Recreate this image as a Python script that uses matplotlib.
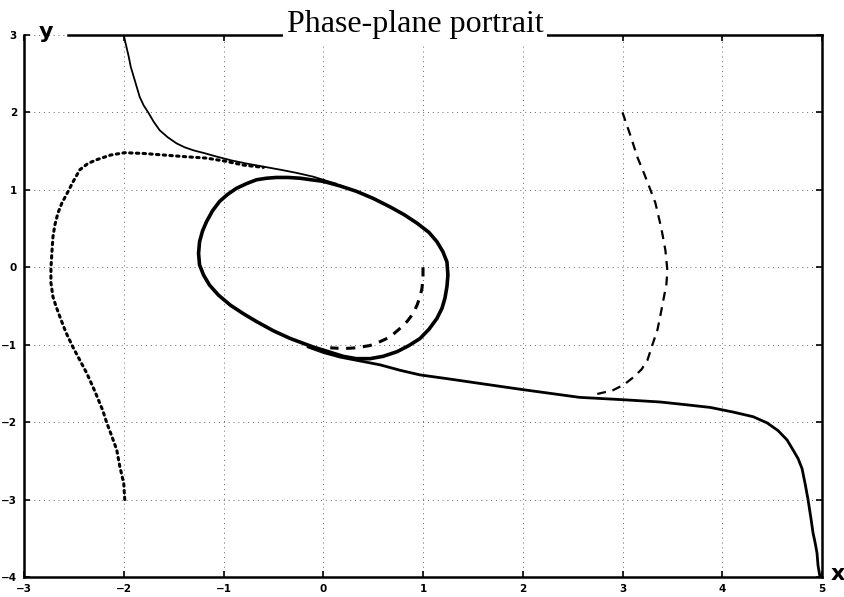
import numpy as np
import matplotlib.pyplot as plt

# trajectories (x, y pairs)
upper_x = [-2.0, -1.99, -1.97, -1.95, -1.93, -1.90, -1.87, -1.84, -1.80, -1.75,
           -1.70, -1.64, -1.56, -1.47, -1.39, -1.30, -1.18, -1.07, -0.92, -0.77,
           -0.60, -0.43, -0.27, -0.10, 0.05, 0.13]
upper_y = [3.0, 2.94, 2.83, 2.72, 2.59, 2.46, 2.33, 2.20, 2.09, 1.99,
           1.88, 1.77, 1.68, 1.60, 1.55, 1.51, 1.47, 1.43, 1.38, 1.34,
           1.30, 1.26, 1.22, 1.17, 1.11, 1.08]

lower_x = [4.98, 4.96, 4.95, 4.93, 4.91, 4.89, 4.86, 4.83, 4.80, 4.76,
           4.71, 4.65, 4.56, 4.45, 4.31, 4.11, 3.88, 3.60, 3.38, 3.0,
           2.57, 2.0, 1.57, 1.25, 0.97, 0.77, 0.57, 0.37, 0.17, 0.0, -0.15]
lower_y = [-4.0, -3.85, -3.69, -3.55, -3.43, -3.25, -3.0, -2.79, -2.60, -2.47,
           -2.36, -2.23, -2.11, -2.01, -1.93, -1.87, -1.81, -1.77, -1.74, -1.71,
           -1.68, -1.58, -1.50, -1.44, -1.39, -1.33, -1.26, -1.21, -1.16, -1.10, -1.03]

cycle_x = [0.0, 0.17, 0.335, 0.50, 0.67, 0.81, 0.94, 1.06, 1.14, 1.20, 1.24, 1.25,
           1.24, 1.22, 1.19, 1.14, 1.06, 0.97, 0.86, 0.74, 0.60, 0.47, 0.33, 0.20,
           0.05, -0.10, -0.33, -0.50, -0.67, -0.80, -0.93, -1.05, -1.14, -1.20,
           -1.24, -1.25, -1.24, -1.21, -1.17, -1.11, -1.04, -0.96, -0.87, -0.77,
           -0.67, -0.57, -0.47, -0.35, -0.23, -0.12, 0.0]
cycle_y = [1.11, 1.05, 0.98, 0.89, 0.78, 0.68, 0.57, 0.45, 0.33, 0.20, 0.07, -0.10,
           -0.25, -0.40, -0.53, -0.66, -0.80, -0.92, -1.01, -1.09, -1.15, -1.18, -1.18, -1.15,
           -1.09, -1.03, -0.92, -0.82, -0.70, -0.60, -0.49, -0.36, -0.23, -0.10,
           0.03, 0.18, 0.33, 0.47, 0.59, 0.73, 0.85, 0.94, 1.02, 1.08,
           1.13, 1.15, 1.16, 1.16, 1.15, 1.13, 1.11]

dot_x = [-1.99, -2.0, -2.04, -2.07, -2.12, -2.17, -2.21, -2.29, -2.37, -2.44,
         -2.51, -2.58, -2.64, -2.68, -2.71, -2.73, -2.73, -2.72, -2.71, -2.69,
         -2.66, -2.62, -2.57, -2.51, -2.44, -2.36, -2.27, -2.13, -1.99, -1.80,
         -1.60, -1.40, -1.17, -0.98, -0.80, -0.60]
dot_y = [-3.0, -2.79, -2.57, -2.36, -2.18, -2.01, -1.85, -1.60, -1.37, -1.20,
         -1.03, -0.84, -0.64, -0.50, -0.38, -0.20, -0.01, 0.20, 0.39, 0.55,
         0.70, 0.83, 0.95, 1.10, 1.26, 1.34, 1.39, 1.45, 1.48, 1.47,
         1.45, 1.43, 1.41, 1.37, 1.32, 1.29]

dash_out_x = [3.0, 3.08, 3.15, 3.22, 3.28, 3.33, 3.39, 3.43, 3.45, 3.44, 3.41,
              3.38, 3.35, 3.30, 3.25, 3.19, 3.11, 3.01, 2.90, 2.70]
dash_out_y = [2.0, 1.70, 1.42, 1.20, 1.0, 0.83, 0.50, 0.22, -0.04, -0.22, -0.42,
              -0.62, -0.81, -1.0, -1.20, -1.32, -1.42, -1.52, -1.59, -1.65]

dash_in_x = [1.0, 1.0, 0.99, 0.97, 0.94, 0.90, 0.84, 0.76, 0.67, 0.57, 0.47, 0.33, 0.20, 0.07]
dash_in_y = [0.0, -0.13, -0.27, -0.38, -0.49, -0.60, -0.70, -0.80, -0.90, -0.96, -1.01, -1.04, -1.05, -1.04]

xticks = [-3, -2, -1, 0, 1, 2, 3, 4, 5]
yticks = [-4, -3, -2, -1, 0, 1, 2, 3]

fig = plt.figure(figsize=(8.44, 5.97), dpi=100)
ax = fig.add_axes([24 / 844, 20 / 597, 798 / 844, 542 / 597])

ax.plot(cycle_x, cycle_y, color="black", linewidth=2.6, solid_joinstyle="round")
ax.plot(upper_x, upper_y, color="black", linewidth=1.3)
ax.plot(lower_x, lower_y, color="black", linewidth=2.0)
ax.plot(dot_x, dot_y, color="black", linewidth=2.2, linestyle=(0, (0.8, 1.4)),
        dash_capstyle="round")
ax.plot(dash_out_x, dash_out_y, color="black", linewidth=1.6, linestyle=(0, (4, 3)))
ax.plot(dash_in_x, dash_in_y, color="black", linewidth=2.2, linestyle=(0, (3, 2.5)))

ax.set_xlim(-3, 5)
ax.set_ylim(-4, 3)
ax.set_xticks(xticks)
ax.set_yticks(yticks)
ax.grid(True, color="0.4", linewidth=0.7, linestyle=(0, (1, 4)))

for s in ax.spines.values():
    s.set_linewidth(1.8)
ax.spines["top"].set_bounds(-2.56, 5)

ax.tick_params(direction="in", length=4, width=1.2, top=True, right=True,
               labelsize=7.5, pad=5)
for label in ax.get_xticklabels() + ax.get_yticklabels():
    label.set_fontweight("bold")

fig.text(0.492, 1 - 32 / 597, "Phase-plane portrait", family="Liberation Serif",
         fontsize=23, ha="center", va="baseline",
         bbox=dict(facecolor="white", edgecolor="none", boxstyle="square,pad=0.12"))
fig.text(46 / 844, 1 - 38 / 597, "y", fontsize=16, fontweight="bold",
         ha="center", va="baseline")
fig.text(838 / 844, 1 - 580 / 597, "x", fontsize=16, fontweight="bold",
         ha="center", va="baseline")

plt.savefig("out.png", dpi=100)
